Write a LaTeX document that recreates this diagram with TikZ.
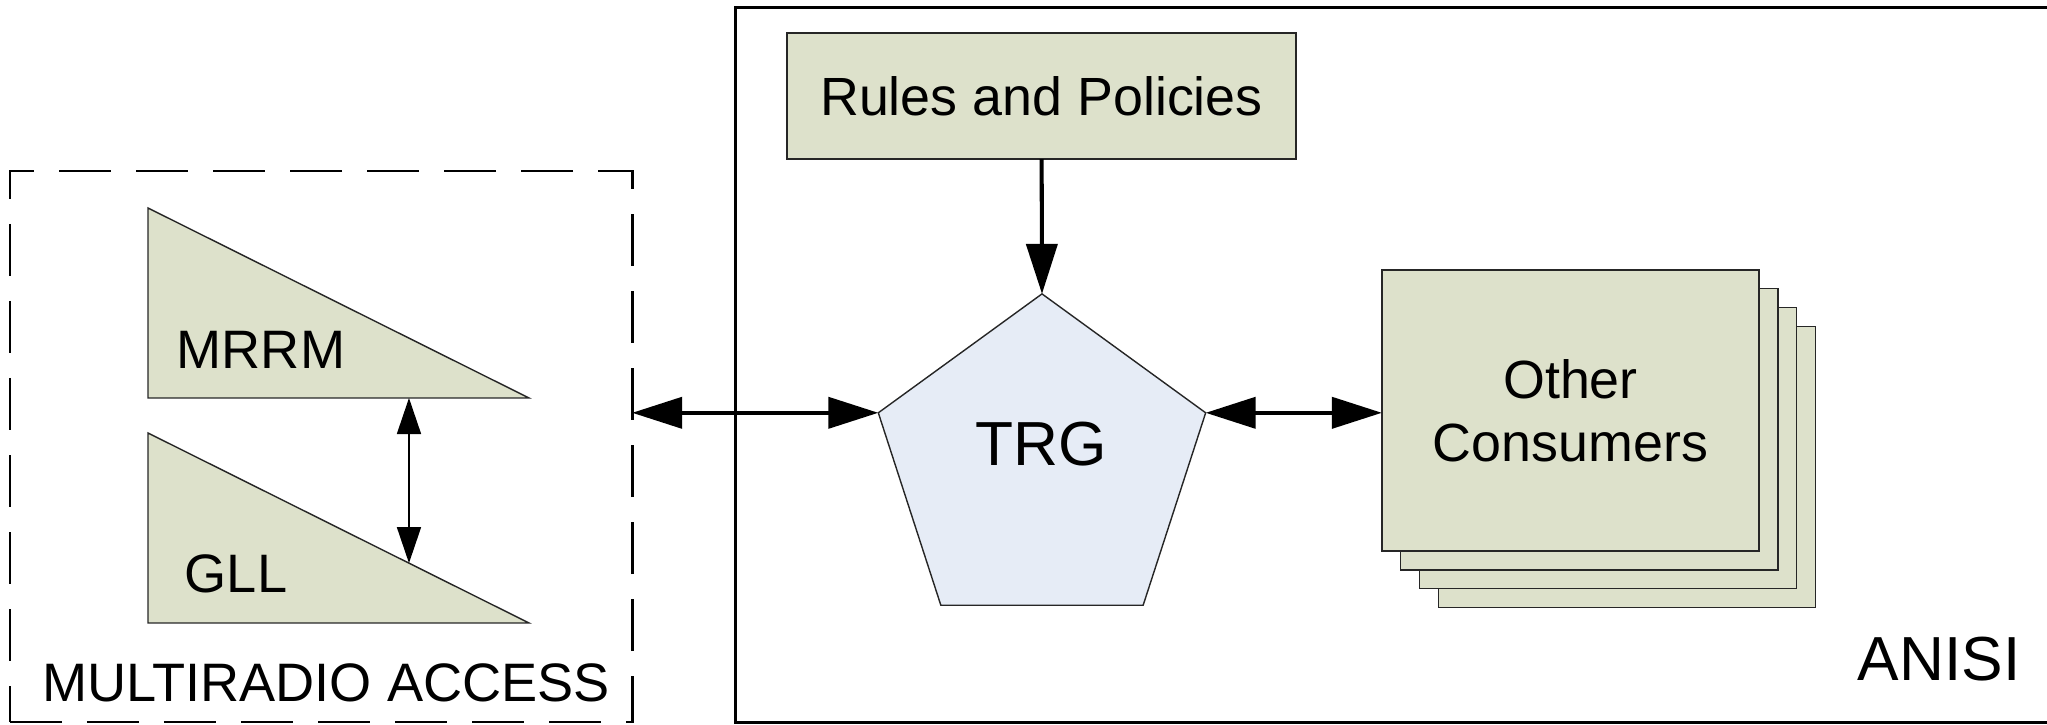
\documentclass[tikz,border=0pt]{standalone}
\usepackage{fontspec}
\setmainfont{Liberation Sans}
\usepackage{xcolor}
\usetikzlibrary{shapes.geometric, arrows.meta, positioning, calc}

\definecolor{olivefill}{HTML}{DDE1CB}
\definecolor{bluefill}{HTML}{E6ECF6}

\begin{document}
\begin{tikzpicture}[x=0.01cm, y=-0.01cm,
    block/.style={rectangle, draw=black!85, fill=olivefill, line width=0.4pt, inner sep=0pt, outer sep=0pt, font=\fontsize{15.3pt}{17.9pt}\selectfont},
    consumer/.style={block, minimum width=3.77cm, minimum height=2.81cm, align=center},
    wedge/.style={draw=black!85, fill=olivefill, line width=0.4pt},
    pentagon/.style={regular polygon, regular polygon sides=5, minimum size=3.44cm, draw=black!85, fill=bluefill, line width=0.4pt, inner sep=0pt, outer sep=0pt},
    accessframe/.style={rectangle, draw=black, line width=0.75pt, dash pattern=on 0.52cm off 0.25cm, minimum width=6.22cm, minimum height=5.51cm, inner sep=0pt, outer sep=0pt},
    anisiframe/.style={rectangle, draw=black, line width=0.75pt, minimum width=13.24cm, minimum height=7.14cm, inner sep=0pt, outer sep=0pt},
    txt/.style={inner sep=0pt, font=\fontsize{15.4pt}{17.9pt}\selectfont},
    bigtxt/.style={inner sep=0pt, font=\fontsize{17.7pt}{21pt}\selectfont},
    arrow/.style={-{Triangle[length=0.5cm, width=0.31cm]}, line width=1.15pt},
    dblarrow/.style={{Triangle[length=0.5cm, width=0.31cm]}-{Triangle[length=0.5cm, width=0.31cm]}, line width=1.15pt},
    thinarrow/.style={{Triangle[length=0.36cm, width=0.24cm]}-{Triangle[length=0.36cm, width=0.24cm]}, line width=0.45pt}
]
    \useasboundingbox (0,0) rectangle (2047,725);

    % Frames
    \node[accessframe] (access) at (321,446.5) {};
    \node[anisiframe] (anisi) at (1398,365) {};
    \node[txt] (accesstitle) at (326,683) {MULTIRADIO ACCESS};
    \node[bigtxt] (anisititle) at (1939,659) {ANISI};

    % Multiradio access
    \coordinate (mrrm1) at (148,208);
    \coordinate (mrrm2) at (148,398);
    \coordinate (mrrm3) at (529,398);
    \coordinate (gll1) at (148,433);
    \coordinate (gll2) at (148,623);
    \coordinate (gll3) at (529,623);
    \draw[wedge] (mrrm1) -- (mrrm2) -- (mrrm3) -- cycle;
    \draw[wedge] (gll1) -- (gll2) -- (gll3) -- cycle;
    \node[txt] (mrrm) at (261,350) {MRRM};
    \node[txt] (gll) at (236,574) {GLL};
    \coordinate (mrrmfoot) at ($(mrrm2)!0.685!(mrrm3)$);
    \coordinate (gllslope) at ($(gll1)!0.685!(gll3)$);

    % ANISI
    \node[block, minimum width=5.09cm, minimum height=1.26cm] (rules) at (1041.5,96) {Rules and Policies};
    \node[pentagon] (trg) at (1042,466) {};
    \node[bigtxt] (trgname) at (1041,444) {TRG};
    \foreach \i in {3,2,1}
        \node[consumer] (cons\i) at (1570.5+18.8*\i,410.5+18.8*\i) {};
    \node[consumer] (cons) at (1570.5,410.5) {Other\\Consumers};

    % Data Flows
    \draw[thinarrow] (mrrmfoot) -- (gllslope);
    \draw[arrow] (rules) -- (trg.corner 1);
    \draw[dblarrow] (access.east |- trg.corner 2) -- (trg.corner 2);
    \draw[dblarrow] (trg.corner 5) -- (trg.corner 5 -| cons.west);

\end{tikzpicture}
\end{document}
